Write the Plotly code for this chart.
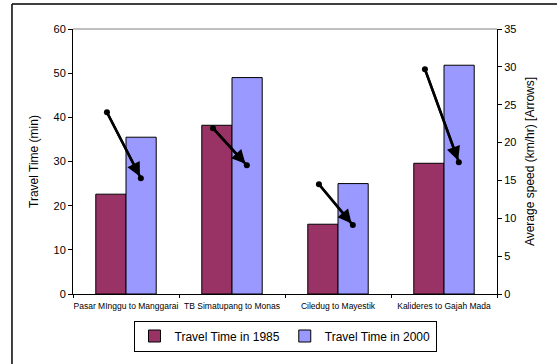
import plotly.graph_objects as go

routes = ["Pasar MInggu to Manggarai", "TB Simatupang to Monas",
          "Ciledug to Mayestik", "Kalideres to Gajah Mada"]
time_1985 = [22.6, 38.2, 15.8, 29.6]
time_2000 = [35.5, 49.0, 25.0, 51.8]
speed_1985 = [24.0, 21.9, 14.5, 29.7]
speed_2000 = [15.3, 17.0, 9.1, 17.4]

FONT = "Liberation Sans, Arial, sans-serif"
idx = list(range(len(routes)))
x_start = [i - 0.18 for i in idx]
x_end = [i + 0.14 for i in idx]

fig = go.Figure()
fig.add_trace(go.Bar(x=routes, y=time_1985, name="Travel Time in 1985",
                     marker=dict(color="#993366", line=dict(color="black", width=1))))
fig.add_trace(go.Bar(x=routes, y=time_2000, name="Travel Time in 2000",
                     marker=dict(color="#9999FF", line=dict(color="black", width=1))))

# speed change arrows (secondary axis)
for xs, xe, s0, s1 in zip(x_start, x_end, speed_1985, speed_2000):
    fig.add_trace(go.Scatter(x=[xs, xe], y=[s0, s1], xaxis="x2", yaxis="y2",
                             mode="lines+markers", showlegend=False, hoverinfo="skip",
                             line=dict(color="black", width=2.5),
                             marker=dict(color="black", size=6)))
    fig.add_annotation(x=xe, y=s1, ax=xs, ay=s0, xref="x2", yref="y2",
                       axref="x2", ayref="y2", showarrow=True, text="",
                       arrowhead=2, arrowsize=1.1, arrowwidth=2.5,
                       arrowcolor="black", standoff=2)

fig.update_layout(
    width=557, height=364,
    margin=dict(l=73, r=60, t=29, b=70),
    paper_bgcolor="white", plot_bgcolor="white",
    font=dict(family=FONT, color="black", size=11),
    barmode="group", bargap=0.43, bargroupgap=0,
    showlegend=True,
    legend=dict(orientation="h", x=0.5, xanchor="center", y=-0.1, yanchor="top",
                bordercolor="black", borderwidth=1, font=dict(size=12),
                itemwidth=30, traceorder="normal"),
    xaxis=dict(type="category", tickson="boundaries", ticks="outside", ticklen=3,
               tickcolor="black", showline=True, linecolor="black", linewidth=1,
               tickangle=0, tickfont=dict(size=8.5), ticklabelstandoff=4,
               showgrid=False, fixedrange=True),
    xaxis2=dict(overlaying="x", range=[-0.5, 3.5], visible=False),
    yaxis=dict(range=[0, 60], dtick=10, ticks="outside", ticklen=4, tickcolor="black",
               showline=True, linecolor="black", linewidth=1, showgrid=False,
               zeroline=False, title=dict(text="Travel Time (min)", font=dict(size=12),
                                          standoff=12)),
    yaxis2=dict(range=[0, 35], dtick=5, overlaying="y", side="right", ticks="outside",
                ticklen=4, tickcolor="black", showline=True, linecolor="black",
                linewidth=1, showgrid=False, zeroline=False,
                title=dict(text="Average speed (km/hr) [Arrows]", font=dict(size=12),
                           standoff=10)),
    shapes=[
        dict(type="line", xref="paper", yref="paper", x0=0, x1=1, y0=1, y1=1,
             line=dict(color="#808080", width=1)),
        dict(type="line", xref="paper", yref="paper", x0=-0.1439, x1=-0.1439,
             y0=-0.27, y1=1.0943, line=dict(color="black", width=1.5)),
        dict(type="line", xref="paper", yref="paper", x0=-0.1439, x1=1.15,
             y0=1.0943, y1=1.0943, line=dict(color="black", width=1.5)),
    ],
)

fig.write_html("out.html")
